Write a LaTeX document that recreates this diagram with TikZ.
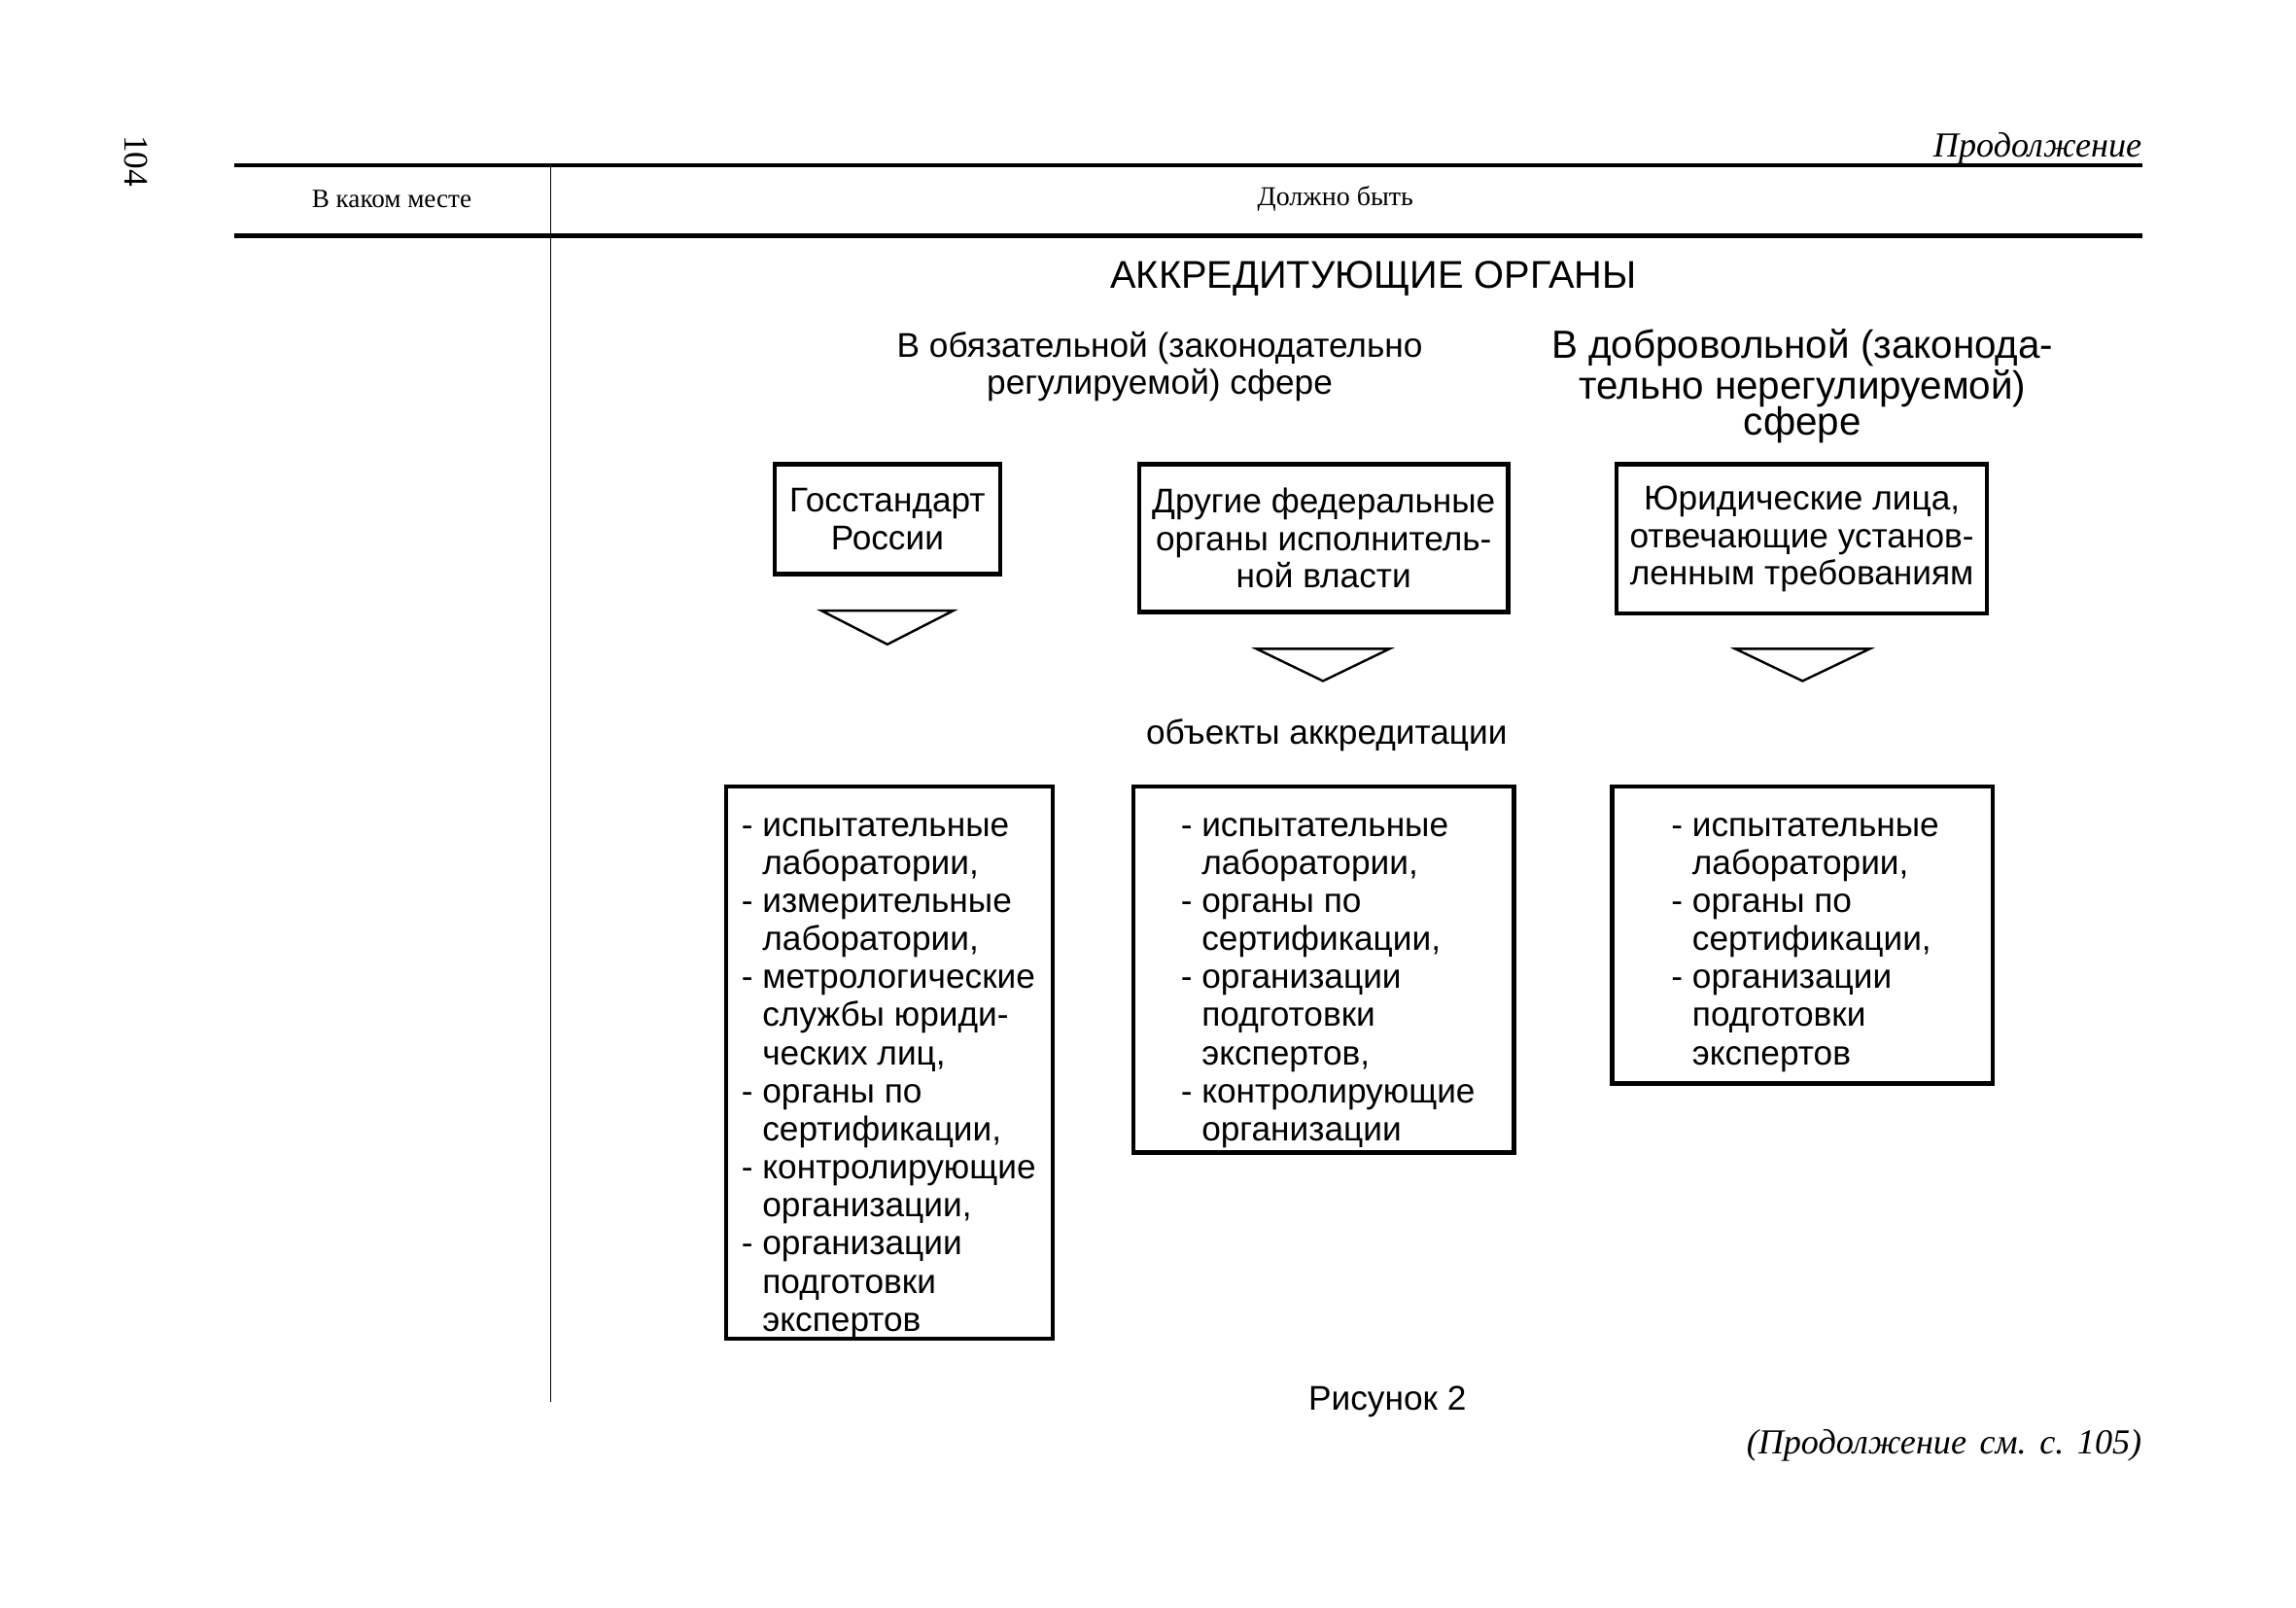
\documentclass[tikz,border=0pt]{standalone}
\usepackage{fontspec}
\setmainfont{Liberation Serif}
\setsansfont{Liberation Sans}
\begin{document}
\begin{tikzpicture}[x=0.5pt,y=-0.5pt,
  rule/.style={line width=1.5pt},
  thinrule/.style={line width=0.6pt},
  frame/.style={draw,line width=1.5pt,inner sep=0pt,font=\sffamily\fontsize{11.7}{12.8}\selectfont,align=center},
  plainframe/.style={draw,line width=1.5pt,inner sep=0pt},
  list/.style={inner sep=0pt,anchor=base west,font=\sffamily\fontsize{11.7}{13}\selectfont},
  tri/.style={line width=0.8pt,line join=miter},
  serifsm/.style={inner sep=0pt,yshift=-0.8pt,font=\fontsize{9.3}{11}\selectfont},
  ital/.style={inner sep=0pt,font=\itshape\fontsize{12}{14}\selectfont},
  sans/.style={inner sep=0pt,yshift=-1pt,font=\sffamily\fontsize{11.7}{12.5}\selectfont,align=center},
]
\useasboundingbox (0,0) rectangle (1568,1097.4);

% page number
\node[inner sep=0pt,rotate=-90,font=\fontsize{11.7}{13}\selectfont] (pagenum) at (93,110) {104};

% header
\node[ital,anchor=base east] (cont) at (1463,107) {Продолжение};
\coordinate (tl) at (160,113);
\coordinate (tr) at (1463,113);
\coordinate (bl) at (160,161);
\coordinate (br) at (1463,161);
\coordinate (vtop) at (376,113);
\coordinate (vbot) at (376,957);
\draw[rule] (tl) -- (tr);
\draw[rule] (bl) -- (br);
\draw[thinrule] (vtop) -- (vbot);
\node[serifsm,font=\fontsize{9.0}{11}\selectfont] (colA) at (267.5,134) {В каком месте};
\node[serifsm] (colB) at (912,134) {Должно быть};

% title
\node[sans,font=\sffamily\fontsize{13.2}{15}\selectfont] (title) at (938,188) {АККРЕДИТУЮЩИЕ ОРГАНЫ};
\node[sans,font=\sffamily\fontsize{11.7}{12.5}\selectfont] (oblig) at (792,248.5) {В обязательной (законодательно\\регулируемой) сфере};
\node[sans,font=\sffamily\fontsize{13.4}{12.5}\selectfont] (dobr) at (1231,262) {В добровольной (законода-\\тельно нерегулируемой)\\сфере};

% upper boxes
\node[frame,minimum width=77pt,minimum height=37.5pt] (gost) at (606,354.5) {Госстандарт\\России};
\node[frame,minimum width=126pt,minimum height=50.5pt] (fed) at (904,367.5) {Другие федеральные\\органы исполнитель-\\ной власти};
\node[frame,minimum width=126.5pt,minimum height=51pt] (jur) at (1230.5,368) {Юридические лица,\\отвечающие установ-\\ленным требованиям};

% triangles
\coordinate (t1a) at (561,417); \coordinate (t1b) at (651,417); \coordinate (t1c) at (606,440);
\coordinate (t2a) at (858,443); \coordinate (t2b) at (949,443); \coordinate (t2c) at (903.5,465);
\coordinate (t3a) at (1185,443); \coordinate (t3b) at (1277,443); \coordinate (t3c) at (1231,465);
\draw[tri] (t1a) -- (t1b) -- (t1c) -- cycle;
\draw[tri] (t2a) -- (t2b) -- (t2c) -- cycle;
\draw[tri] (t3a) -- (t3b) -- (t3c) -- cycle;

\node[sans,font=\sffamily\fontsize{11.7}{12.5}\selectfont] (obj) at (906,500) {объекты аккредитации};

% lower boxes
\node[plainframe,minimum width=111.5pt,minimum height=188.5pt] (box4) at (607.5,725.5) {};
\node[plainframe,minimum width=130pt,minimum height=125pt] (box5) at (904,662) {};
\node[plainframe,minimum width=130pt,minimum height=101.5pt] (box6) at (1231,638.5) {};

\node[list] (list4) at (506,571) {\begin{tabular}[t]{@{}l@{}l@{}}
-~ & испытательные\\
   & лаборатории,\\
-~ & измерительные\\
   & лаборатории,\\
-~ & метрологические\\
   & службы юриди-\\
   & ческих лиц,\\
-~ & органы по\\
   & сертификации,\\
-~ & контролирующие\\
   & организации,\\
-~ & организации\\
   & подготовки\\
   & экспертов
\end{tabular}};

\node[list] (list5) at (806,571) {\begin{tabular}[t]{@{}l@{}l@{}}
-~ & испытательные\\
   & лаборатории,\\
-~ & органы по\\
   & сертификации,\\
-~ & организации\\
   & подготовки\\
   & экспертов,\\
-~ & контролирующие\\
   & организации
\end{tabular}};

\node[list] (list6) at (1141,571) {\begin{tabular}[t]{@{}l@{}l@{}}
-~ & испытательные\\
   & лаборатории,\\
-~ & органы по\\
   & сертификации,\\
-~ & организации\\
   & подготовки\\
   & экспертов
\end{tabular}};

% caption and footer
\node[sans,font=\sffamily\fontsize{11.7}{12.5}\selectfont] (fig) at (947.5,955) {Рисунок 2};
\node[ital,anchor=east] (contnext) at (1463,987) {(Продолжение\hspace{4.5pt}см.\hspace{4.5pt}с.\hspace{4.5pt}105)};
\end{tikzpicture}
\end{document}
